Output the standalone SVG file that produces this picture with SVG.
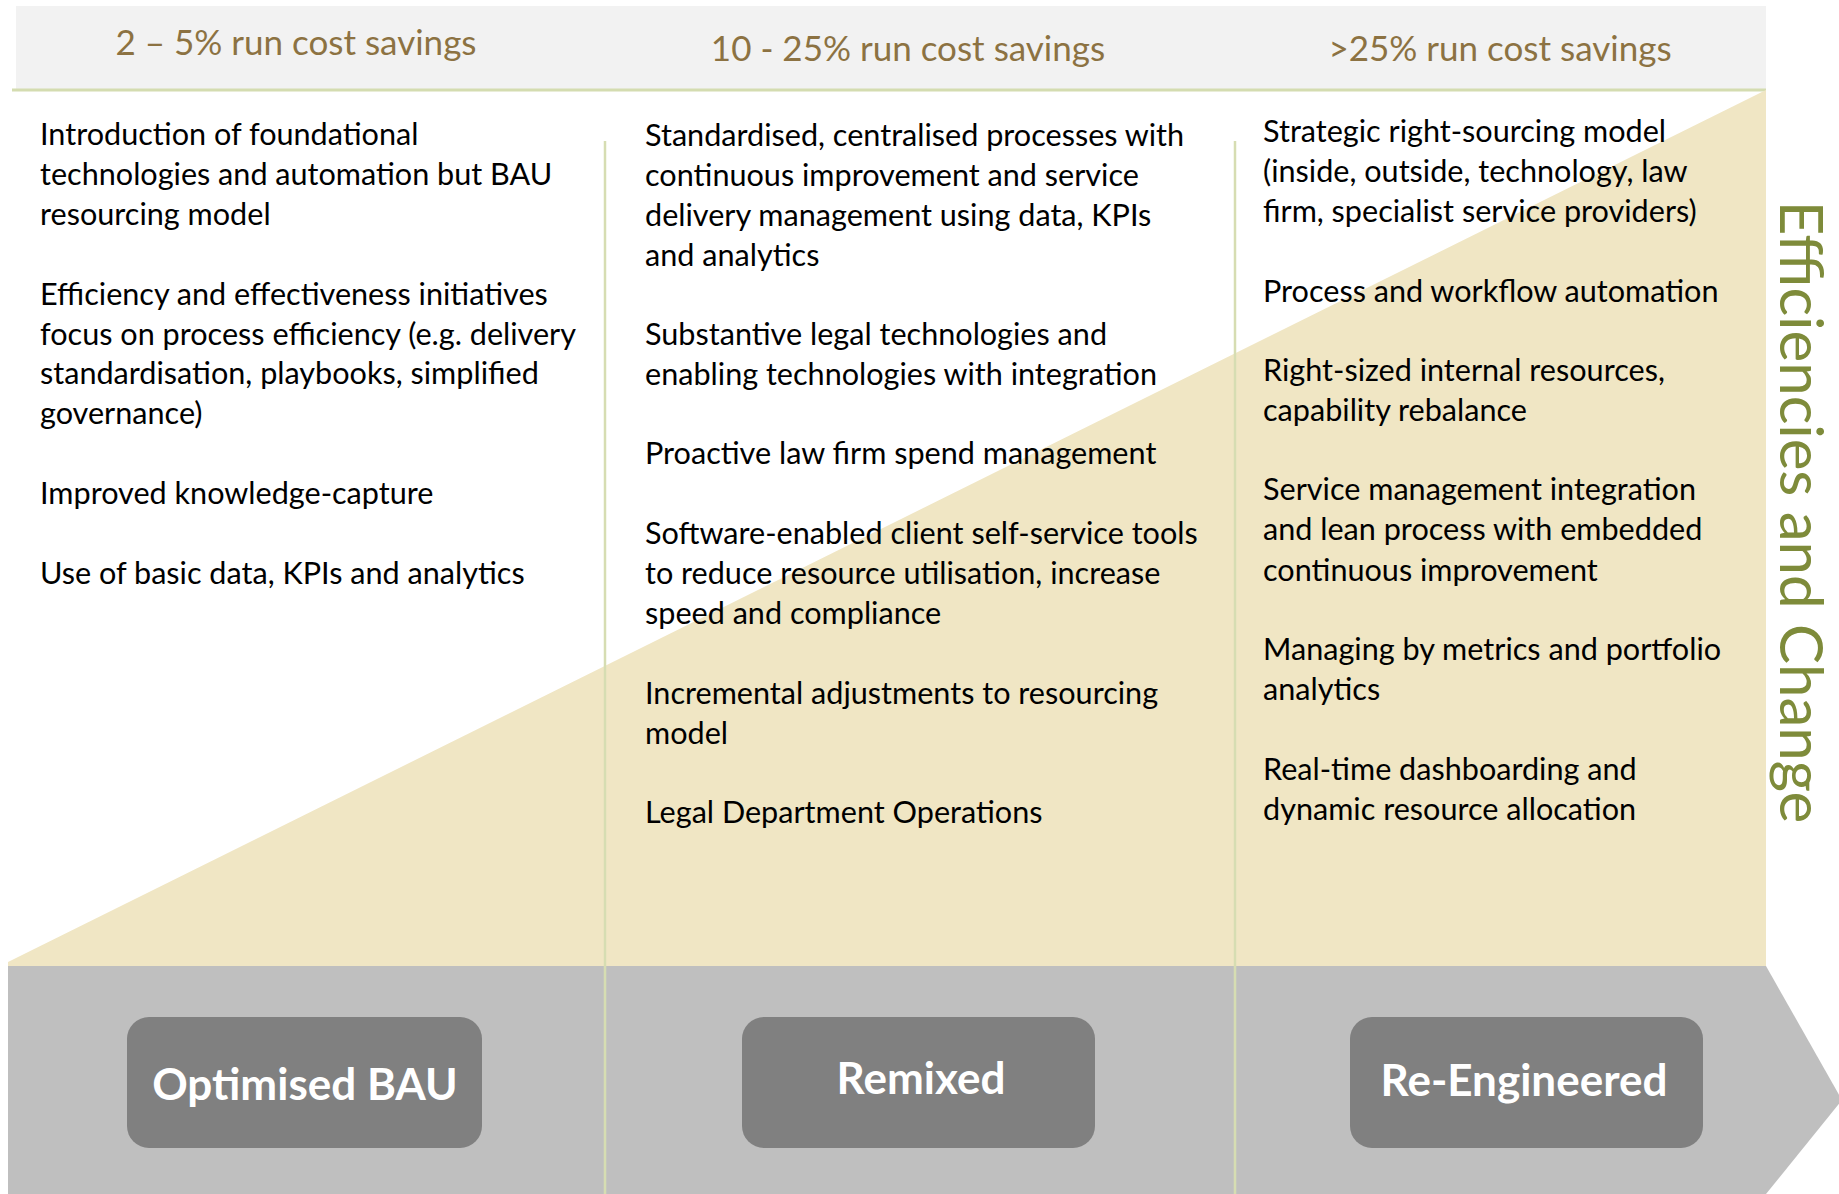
<svg xmlns="http://www.w3.org/2000/svg" width="1839" height="1194" viewBox="0 0 1839 1194">
  <style>
    .hdr { font-family: Lato, "Liberation Sans", sans-serif; font-size: 35px; fill: #8c7242; text-anchor: middle; }
    .body { font-family: Lato, "Liberation Sans", sans-serif; font-size: 30.6px; fill: #000000; }
    .stage { fill: #808080; }
    .stage-label { font-family: Lato, "Liberation Sans", sans-serif; font-size: 44px; font-weight: bold; fill: #ffffff; text-anchor: middle; }
    .divider { stroke: #d6ddb2; stroke-width: 2.5; fill: none; }
    .side { font-family: Lato, "Liberation Sans", sans-serif; font-size: 60px; fill: #7e8b3a; text-anchor: middle; }
  </style>

  <rect x="0" y="0" width="1839" height="1194" fill="#ffffff"/>

  <!-- header band with savings ranges -->
  <g id="header">
    <rect x="16" y="6" width="1750" height="84" fill="#f2f2f2"/>
    <line x1="12" y1="90" x2="1766" y2="90" stroke="#d4dcb0" stroke-width="3"/>
    <text class="hdr" x="296" y="55">2 – 5% run cost savings</text>
    <text class="hdr" x="908" y="61">10 - 25% run cost savings</text>
    <text class="hdr" x="1500" y="61">&gt;25% run cost savings</text>
  </g>

  <!-- rising wedge -->
  <polygon id="wedge" points="8,962 1766,90 1766,966 8,966" fill="#f0e6c4"/>

  <!-- stage arrow along the bottom -->
  <polygon id="stage-arrow" points="8,966 1766,966 1842,1100 1766,1194 8,1194" fill="#bfbfbf"/>

  <!-- column dividers -->
  <g id="dividers">
    <line class="divider" x1="605" y1="141" x2="605" y2="1194"/>
    <line class="divider" x1="1235" y1="141" x2="1235" y2="1194"/>
  </g>

  <!-- column 1: Optimised BAU -->
  <g id="col-optimised">
    <text class="body" x="40" y="145">Introduction of foundational</text>
    <text class="body" x="40" y="185">technologies and automation but BAU</text>
    <text class="body" x="40" y="225">resourcing model</text>
    <text class="body" x="40" y="305">Efficiency and effectiveness initiatives</text>
    <text class="body" x="40" y="345">focus on process efficiency (e.g. delivery</text>
    <text class="body" x="40" y="384">standardisation, playbooks, simplified</text>
    <text class="body" x="40" y="424">governance)</text>
    <text class="body" x="40" y="504">Improved knowledge-capture</text>
    <text class="body" x="40" y="584">Use of basic data, KPIs and analytics</text>
  </g>

  <!-- column 2: Remixed -->
  <g id="col-remixed">
    <text class="body" x="645" y="146">Standardised, centralised processes with</text>
    <text class="body" x="645" y="186">continuous improvement and service</text>
    <text class="body" x="645" y="226">delivery management using data, KPIs</text>
    <text class="body" x="645" y="266">and analytics</text>
    <text class="body" x="645" y="345">Substantive legal technologies and</text>
    <text class="body" x="645" y="385">enabling technologies with integration</text>
    <text class="body" x="645" y="464">Proactive law firm spend management</text>
    <text class="body" x="645" y="544">Software-enabled client self-service tools</text>
    <text class="body" x="645" y="584">to reduce resource utilisation, increase</text>
    <text class="body" x="645" y="624">speed and compliance</text>
    <text class="body" x="645" y="704">Incremental adjustments to resourcing</text>
    <text class="body" x="645" y="744">model</text>
    <text class="body" x="645" y="823">Legal Department Operations</text>
  </g>

  <!-- column 3: Re-Engineered -->
  <g id="col-reengineered">
    <text class="body" x="1263" y="142">Strategic right-sourcing model</text>
    <text class="body" x="1263" y="182">(inside, outside, technology, law</text>
    <text class="body" x="1263" y="222">firm, specialist service providers)</text>
    <text class="body" x="1263" y="302">Process and workflow automation</text>
    <text class="body" x="1263" y="381">Right-sized internal resources,</text>
    <text class="body" x="1263" y="421">capability rebalance</text>
    <text class="body" x="1263" y="500">Service management integration</text>
    <text class="body" x="1263" y="540">and lean process with embedded</text>
    <text class="body" x="1263" y="581">continuous improvement</text>
    <text class="body" x="1263" y="660">Managing by metrics and portfolio</text>
    <text class="body" x="1263" y="700">analytics</text>
    <text class="body" x="1263" y="780">Real-time dashboarding and</text>
    <text class="body" x="1263" y="820">dynamic resource allocation</text>
  </g>

  <!-- stage labels -->
  <g id="stage-optimised">
    <rect class="stage" x="127" y="1017" width="355" height="131" rx="22" ry="22"/>
    <text class="stage-label" x="305" y="1100">Optimised BAU</text>
  </g>
  <g id="stage-remixed">
    <rect class="stage" x="742" y="1017" width="353" height="131" rx="22" ry="22"/>
    <text class="stage-label" x="921" y="1094">Remixed</text>
  </g>
  <g id="stage-reengineered">
    <rect class="stage" x="1350" y="1017" width="353" height="131" rx="22" ry="22"/>
    <text class="stage-label" x="1524" y="1096">Re-Engineered</text>
  </g>

  <!-- vertical axis caption -->
  <g id="axis-label">
    <text class="side" transform="translate(1780,512) rotate(90)" x="0" y="0">Efficiencies and Change</text>
  </g>
</svg>
